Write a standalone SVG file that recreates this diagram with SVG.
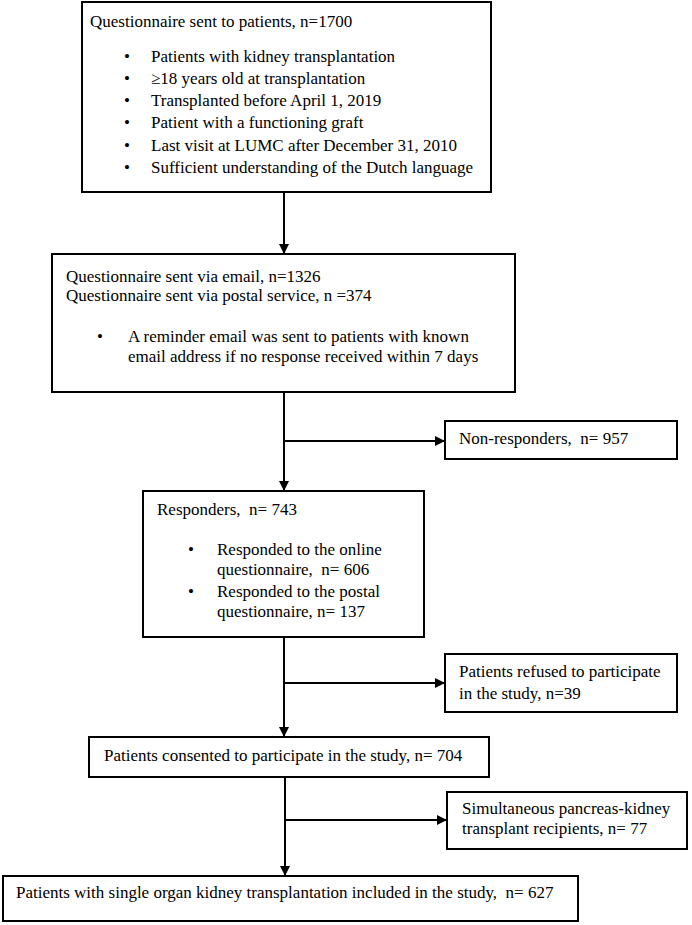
<svg xmlns="http://www.w3.org/2000/svg" width="692" height="925" viewBox="0 0 692 925">
<defs>
<marker id="ah" markerWidth="10" markerHeight="10" refX="10" refY="5" orient="auto" markerUnits="userSpaceOnUse">
<path d="M0,0 L10,5 L0,10 Z" fill="#000"/>
</marker>
<style>
.box{fill:#fff;stroke:#000;stroke-width:2}
.t{font-size:17px;fill:#000;white-space:pre}
.c{stroke:#000;stroke-width:2;fill:none}
</style>
</defs>
<rect width="692" height="925" fill="#fff"/>
<g id="connectors">
<line class="c" x1="284" y1="192" x2="284" y2="254" marker-end="url(#ah)"/>
<line class="c" x1="284" y1="392" x2="284" y2="491" marker-end="url(#ah)"/>
<line class="c" x1="284" y1="441" x2="445" y2="441" marker-end="url(#ah)"/>
<line class="c" x1="284" y1="637" x2="284" y2="737" marker-end="url(#ah)"/>
<line class="c" x1="284" y1="683" x2="445" y2="683" marker-end="url(#ah)"/>
<line class="c" x1="285" y1="777" x2="285" y2="876" marker-end="url(#ah)"/>
<line class="c" x1="285" y1="820" x2="447" y2="820" marker-end="url(#ah)"/>
</g>
<g font-family="'Liberation Serif', 'Times New Roman', 'DejaVu Serif', serif">
<g id="n1">
<rect class="box" x="82" y="2" width="409" height="190"/>
<text class="t" x="90" y="27">Questionnaire sent to patients, n=1700</text>
<text class="t" x="124" y="62">•</text><text class="t" x="151" y="62">Patients with kidney transplantation</text>
<text class="t" x="124" y="84">•</text><text class="t" x="151" y="84">≥18 years old at transplantation</text>
<text class="t" x="124" y="106">•</text><text class="t" x="151" y="106">Transplanted before April 1, 2019</text>
<text class="t" x="124" y="128">•</text><text class="t" x="151" y="128">Patient with a functioning graft</text>
<text class="t" x="124" y="151">•</text><text class="t" x="151" y="151">Last visit at LUMC after December 31, 2010</text>
<text class="t" x="124" y="173">•</text><text class="t" x="151" y="173">Sufficient understanding of the Dutch language</text>
</g>
<g id="n2">
<rect class="box" x="52" y="254" width="463" height="138"/>
<text class="t" x="66" y="282">Questionnaire sent via email, n=1326</text>
<text class="t" x="66" y="301">Questionnaire sent via postal service, n =374</text>
<text class="t" x="97" y="342">•</text><text class="t" x="128" y="342">A reminder email was sent to patients with known</text>
<text class="t" x="128" y="362">email address if no response received within 7 days</text>
</g>
<g id="n3">
<rect class="box" x="445" y="421" width="232" height="38"/>
<text class="t" x="459" y="444" xml:space="preserve">Non-responders,  n= 957</text>
</g>
<g id="n4">
<rect class="box" x="143" y="491" width="281" height="146"/>
<text class="t" x="157" y="515" xml:space="preserve">Responders,  n= 743</text>
<text class="t" x="188" y="555">•</text><text class="t" x="217" y="555">Responded to the online</text>
<text class="t" x="217" y="575" xml:space="preserve">questionnaire,  n= 606</text>
<text class="t" x="188" y="597">•</text><text class="t" x="217" y="597">Responded to the postal</text>
<text class="t" x="217" y="617">questionnaire, n= 137</text>
</g>
<g id="n5">
<rect class="box" x="445" y="654" width="232" height="58"/>
<text class="t" x="459" y="677">Patients refused to participate</text>
<text class="t" x="459" y="699">in the study, n=39</text>
</g>
<g id="n6">
<rect class="box" x="89" y="737" width="400" height="40"/>
<text class="t" x="104" y="761">Patients consented to participate in the study, n= 704</text>
</g>
<g id="n7">
<rect class="box" x="447" y="792" width="240" height="57"/>
<text class="t" x="462" y="814">Simultaneous pancreas-kidney</text>
<text class="t" x="462" y="834">transplant recipients, n= 77</text>
</g>
<g id="n8">
<rect class="box" x="3" y="876" width="575" height="45"/>
<text class="t" x="16" y="898" xml:space="preserve">Patients with single organ kidney transplantation included in the study,  n= 627</text>
</g>
</g>
</svg>
